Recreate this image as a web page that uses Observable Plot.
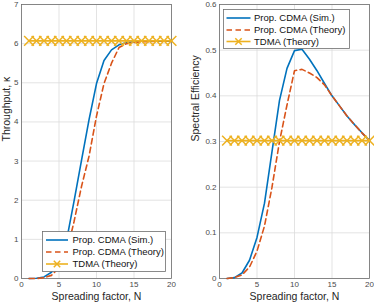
<!DOCTYPE html>
<html>
<head>
<meta charset="utf-8">
<script src="https://cdn.jsdelivr.net/npm/d3@7"></script>
<script src="https://cdn.jsdelivr.net/npm/@observablehq/plot@0.6"></script>
<style>
  html, body { margin: 0; padding: 0; background: white; }
  #wrap { position: relative; width: 374px; height: 306px; overflow: hidden; }
  #wrap > div.p { position: absolute; top: 0; }
  svg.legend { position: absolute; left: 0; top: 0; }
</style>
</head>
<body>
<div id="wrap"></div>
<script>
// ---- data ----
const N = [1,2,3,4,5,6,7,8,9,10,11,12,13,14,15,16,17,18,19,20];
const thrSim    = [0,0.005,0.04,0.16,0.45,0.97,1.97,3.02,4.05,4.98,5.57,5.84,5.97,6.03,6.05,6.06,6.06,6.06,6.06,6.06];
const thrTheory = [0,0.0,0.02,0.08,0.28,0.65,1.45,2.35,3.12,4.15,4.98,5.5,5.9,6.0,6.03,6.05,6.05,6.06,6.06,6.06];
const thrTDMA   = 6.07;
const seSim    = [0,0.002,0.012,0.04,0.09,0.165,0.278,0.39,0.46,0.499,0.502,0.48,0.455,0.427,0.40,0.378,0.356,0.337,0.319,0.302];
const seTheory = [0,0.002,0.008,0.025,0.06,0.115,0.2,0.3,0.38,0.455,0.458,0.45,0.44,0.424,0.40,0.378,0.356,0.337,0.319,0.302];
const seTDMA   = 0.302;
const xTicks = [0,5,10,15,20];
const yTicksLeft = [0,1,2,3,4,5,6,7];
const yTicksRight = [0,0.1,0.2,0.3,0.4,0.5,0.6];
const seriesNames = ["Prop. CDMA (Sim.)", "Prop. CDMA (Theory)", "TDMA (Theory)"];
const colors = ["#0072BD", "#D95319", "#EDB120"];
const xLabel = "Spreading factor, N";
const yLabelLeft = "Throughput, \u03BA";
const yLabelRight = "Spectral Efficiency";

const FONT = "'Liberation Sans', Arial, Helvetica, sans-serif";

function rows(ys) { return N.map((n, i) => ({n, v: ys[i]})); }

function makePlot({width, marginLeft, marginRight, yDomain, yTicks, sim, theory, tdma, yLabel, yLabelDx}) {
  const tdmaRows = N.map(n => ({n, v: tdma}));
  return Plot.plot({
    width, height: 306,
    marginLeft, marginRight, marginTop: 4, marginBottom: 28,
    style: {fontFamily: FONT, fontSize: "8px", color: "#4a4a4a", background: "white", overflow: "visible"},
    x: {domain: [0, 20]},
    y: {domain: yDomain},
    marks: [
      Plot.gridX(xTicks, {stroke: "#dcdcdc", strokeOpacity: 1, strokeWidth: 0.8}),
      Plot.gridY(yTicks, {stroke: "#dcdcdc", strokeOpacity: 1, strokeWidth: 0.8}),
      Plot.axisX(xTicks, {tickSize: 0, tickPadding: 3, label: null, tickFormat: d => String(d)}),
      Plot.axisY(yTicks, {tickSize: 0, tickPadding: 3, label: null, tickFormat: d => String(d)}),
      Plot.frame({stroke: "#6e6e6e", strokeWidth: 0.8}),
      Plot.line(rows(sim), {x: "n", y: "v", stroke: colors[0], strokeWidth: 1.6}),
      Plot.line(rows(theory), {x: "n", y: "v", stroke: colors[1], strokeWidth: 1.6, strokeDasharray: "5.5,3.5"}),
      Plot.line(tdmaRows, {x: "n", y: "v", stroke: colors[2], strokeWidth: 1.6}),
      Plot.dot(tdmaRows, {x: "n", y: "v", symbol: "times", r: 4.5, stroke: colors[2], strokeWidth: 1.5}),
      Plot.text([xLabel], {frameAnchor: "bottom", dy: 21.5, fontSize: 10.5, fill: "#262626"}),
      Plot.text([yLabel], {frameAnchor: "left", dx: yLabelDx, rotate: -90, fontSize: 10.5, fill: "#262626"})
    ]
  });
}

const wrap = document.getElementById("wrap");

const leftDiv = document.createElement("div");
leftDiv.className = "p"; leftDiv.style.left = "0px";
leftDiv.appendChild(makePlot({width: 187, marginLeft: 21, marginRight: 16, yDomain: [0, 7], yTicks: yTicksLeft,
  sim: thrSim, theory: thrTheory, tdma: thrTDMA, yLabel: yLabelLeft, yLabelDx: -15}));
wrap.appendChild(leftDiv);

const rightDiv = document.createElement("div");
rightDiv.className = "p"; rightDiv.style.left = "187px";
rightDiv.appendChild(makePlot({width: 187, marginLeft: 32, marginRight: 5, yDomain: [0, 0.6], yTicks: yTicksRight,
  sim: seSim, theory: seTheory, tdma: seTDMA, yLabel: yLabelRight, yLabelDx: -24}));
wrap.appendChild(rightDiv);

// ---- legends ----
const svg = d3.select(wrap).append("svg").attr("class", "legend").attr("width", 374).attr("height", 306)
  .style("font-family", FONT);

function legend(x, y, w, h, rowYs, lineX0, lineX1, textX) {
  const g = svg.append("g");
  g.append("rect").attr("x", x + 0.5).attr("y", y + 0.5).attr("width", w).attr("height", h)
    .attr("fill", "white").attr("stroke", "#6e6e6e").attr("stroke-width", 0.8);
  seriesNames.forEach((name, i) => {
    const ly = rowYs[i];
    const ln = g.append("line").attr("x1", lineX0).attr("x2", lineX1).attr("y1", ly).attr("y2", ly)
      .attr("stroke", colors[i]).attr("stroke-width", 1.6);
    if (i === 1) ln.attr("stroke-dasharray", "5.5,3.5");
    if (i === 2) {
      const cx = (lineX0 + lineX1) / 2, s = 3.2;
      g.append("path").attr("d", `M${cx - s},${ly - s}L${cx + s},${ly + s}M${cx - s},${ly + s}L${cx + s},${ly - s}`)
        .attr("stroke", colors[2]).attr("stroke-width", 1.5).attr("fill", "none");
    }
    g.append("text").attr("x", textX).attr("y", ly).attr("dy", "0.35em")
      .attr("font-size", 9.5).attr("fill", "#111").text(name);
  });
}

legend(42, 231, 123, 40, [240, 252, 264], 46, 68, 72.5);
legend(223, 9, 126, 39, [18, 30, 41.5], 226.5, 250.5, 254);
</script>
</body>
</html>
